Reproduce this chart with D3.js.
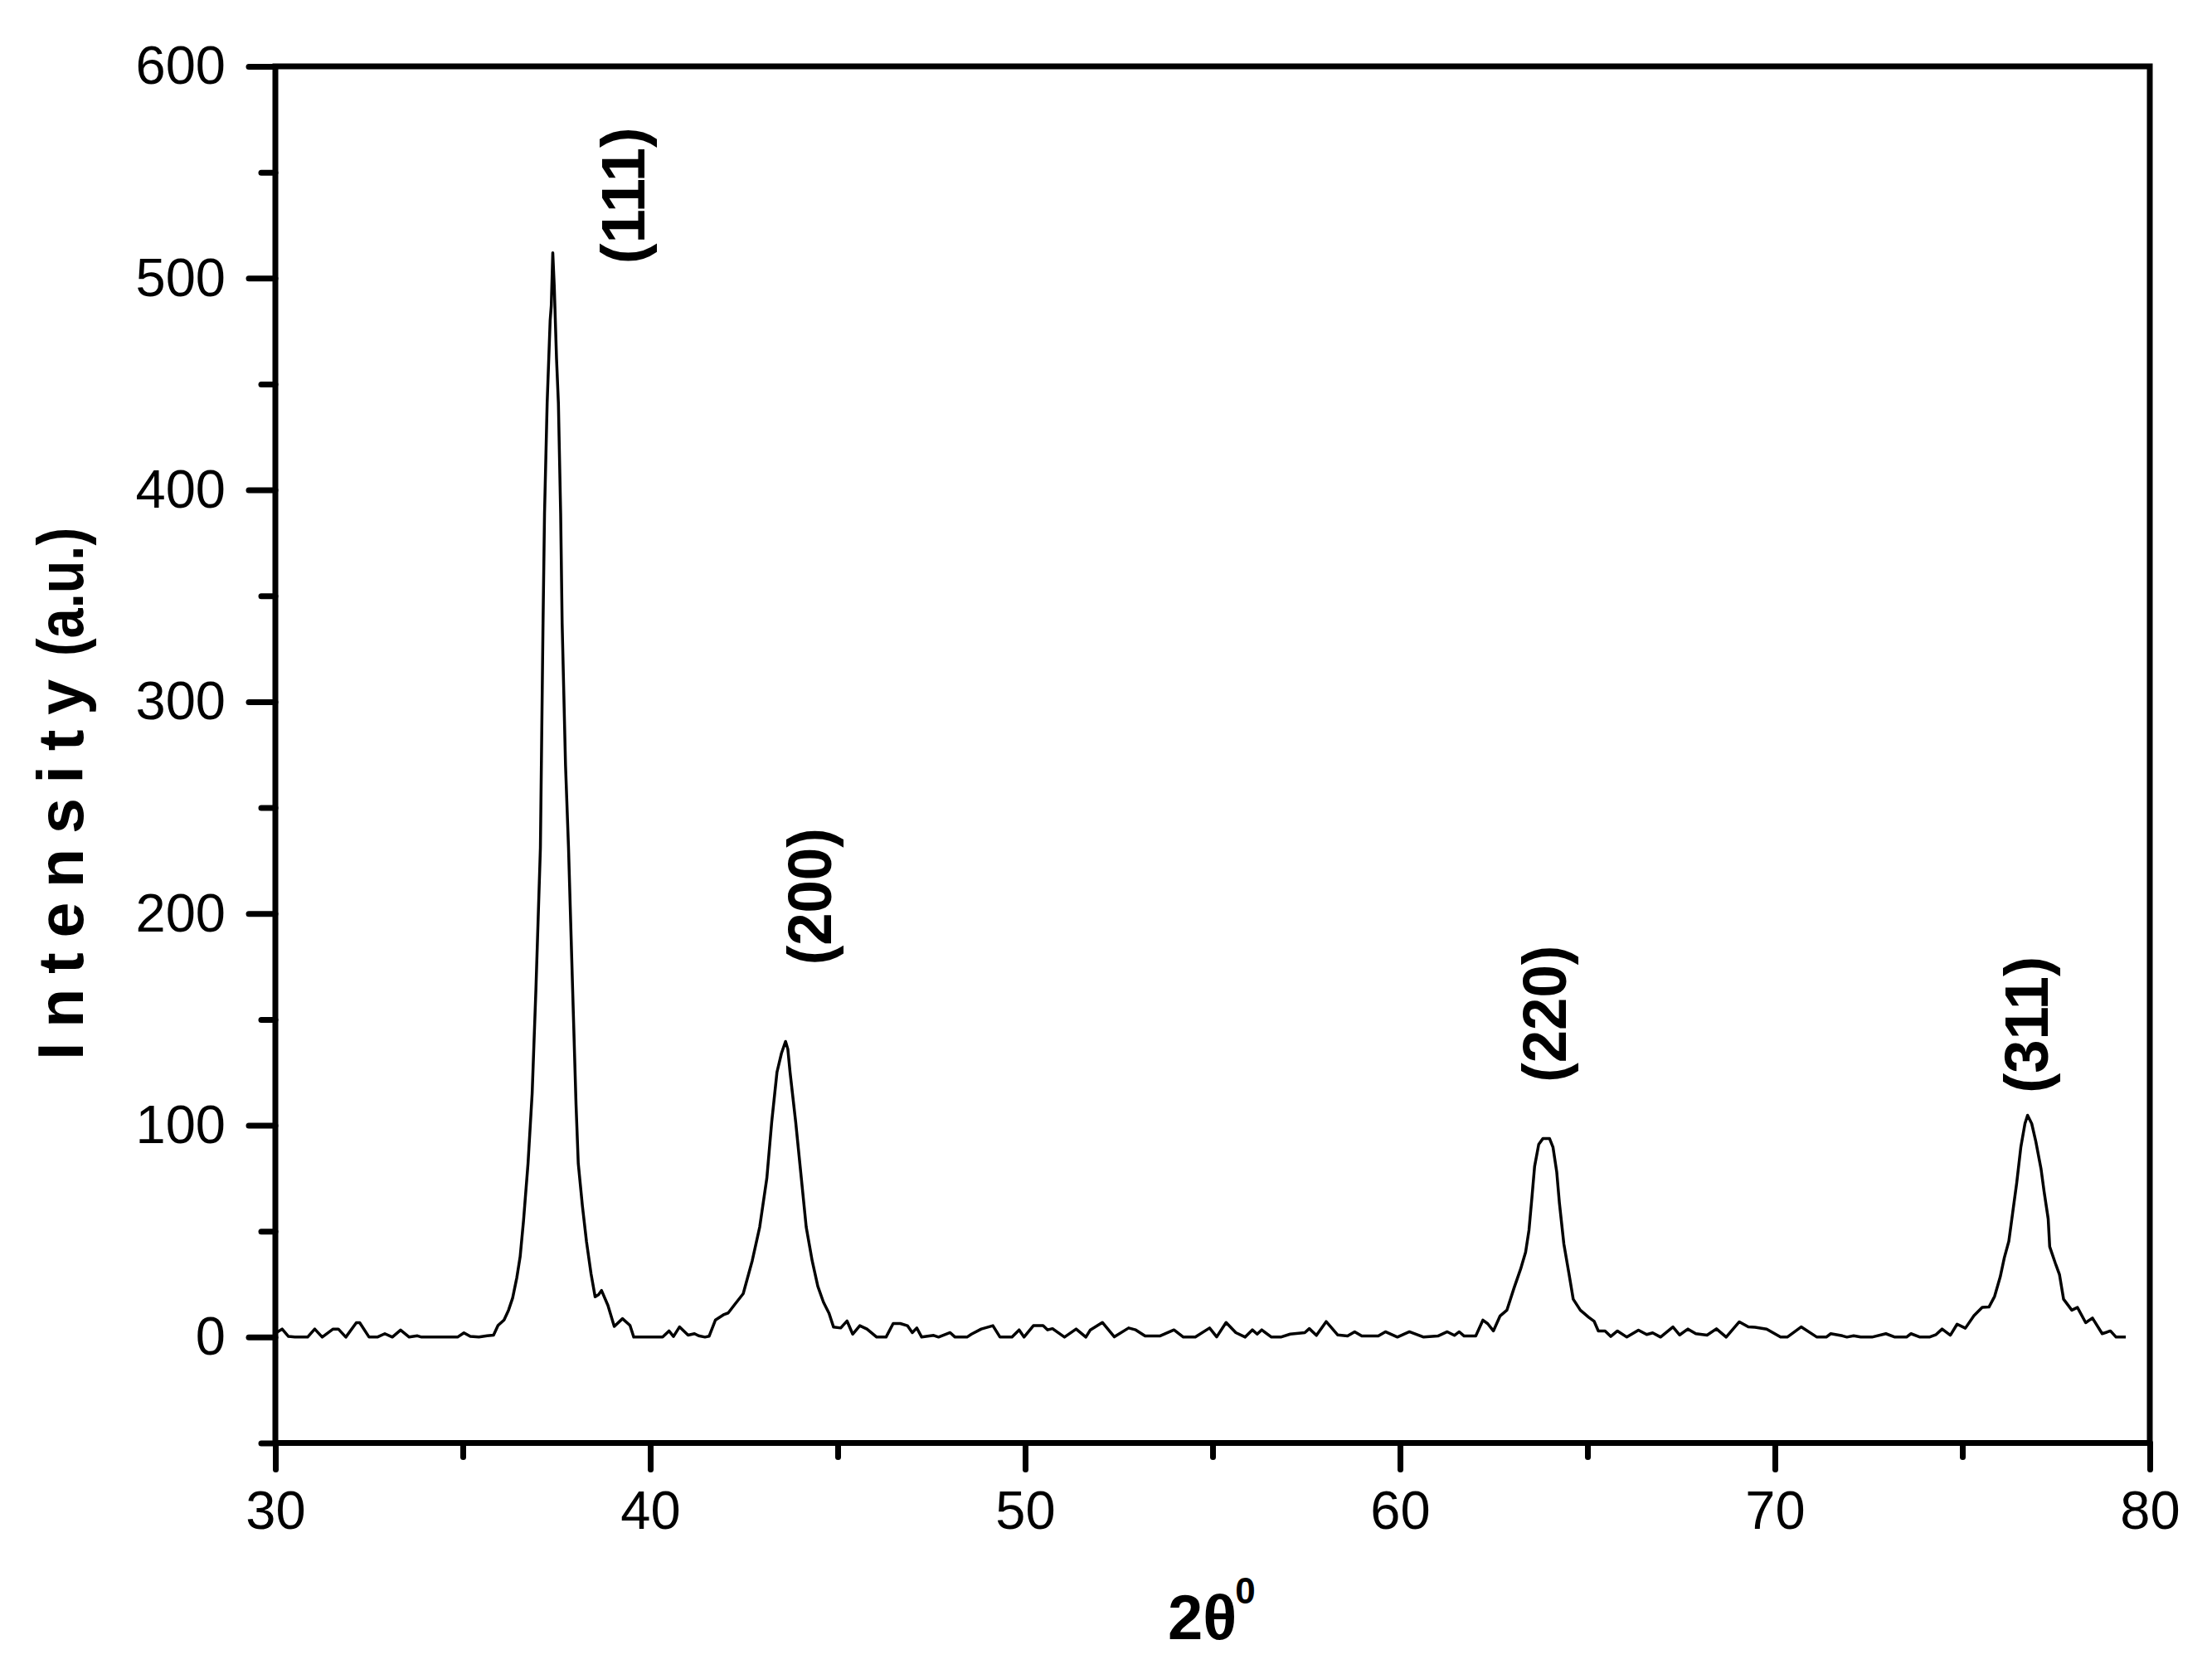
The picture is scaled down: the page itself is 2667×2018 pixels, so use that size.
<!DOCTYPE html>
<html>
<head>
<meta charset="utf-8">
<script src="https://cdn.jsdelivr.net/npm/d3@7"></script>
<style>
  html, body { margin: 0; padding: 0; background: #fff; }
  svg { display: block; }
  text { font-family: "Liberation Sans", Arial, sans-serif; fill: #000; }
</style>
</head>
<body>
<svg id="chart" width="2667" height="2018"></svg>
<script>
// ---------- data ----------
const twoTheta = [
  30.02,30.18,30.35,30.52,30.86,31.05,31.25,31.54,31.68,31.88,32.16,32.25,32.50,32.72,32.92,33.12,33.34,33.57,33.79,33.90,
  34.30,34.86,35.03,35.20,35.43,35.65,35.82,35.94,36.10,36.22,36.33,36.44,36.53,36.62,36.74,36.85,36.95,37.07,37.14,37.18,
  37.25,37.33,37.36,37.40,37.44,37.50,37.55,37.61,37.65,37.74,37.82,37.93,38.02,38.08,38.19,38.30,38.42,38.53,38.62,38.70,
  38.87,39.04,39.26,39.46,39.56,39.71,40.33,40.50,40.62,40.78,41.01,41.18,41.29,41.46,41.57,41.74,41.97,42.08,42.25,42.48,
  42.72,42.92,43.11,43.24,43.38,43.50,43.61,43.67,43.73,43.88,44.03,44.16,44.32,44.47,44.62,44.77,44.89,45.08,45.25,45.40,
  45.59,45.78,46.04,46.29,46.48,46.67,46.86,46.99,47.11,47.24,47.56,47.69,48.00,48.13,48.45,48.57,48.83,49.14,49.33,49.65,
  49.84,49.97,50.22,50.48,50.60,50.73,51.05,51.36,51.62,51.74,52.06,52.38,52.76,52.95,53.20,53.59,53.97,54.22,54.54,54.92,
  55.11,55.36,55.62,55.87,56.06,56.19,56.31,56.57,56.82,57.07,57.46,57.58,57.77,58.03,58.34,58.60,58.79,58.98,59.42,59.61,
  59.93,60.25,60.63,61.01,61.26,61.45,61.58,61.71,62.02,62.21,62.34,62.49,62.67,62.85,63.04,63.22,63.35,63.44,63.52,63.59,
  63.70,63.81,63.99,64.08,64.18,64.25,64.37,64.51,64.62,64.81,65.03,65.18,65.29,65.47,65.62,65.80,66.05,66.36,66.58,66.74,
  66.95,67.28,67.46,67.68,67.89,68.19,68.44,68.70,69.05,69.29,69.47,69.78,70.15,70.33,70.70,71.12,71.37,71.49,71.80,71.92,
  72.10,72.29,72.59,72.96,73.20,73.51,73.63,73.87,74.12,74.30,74.46,74.68,74.86,75.08,75.31,75.53,75.71,75.86,76.01,76.12,
  76.24,76.34,76.45,76.56,76.67,76.74,76.85,76.96,77.10,77.18,77.29,77.33,77.48,77.59,77.70,77.92,78.07,78.29,78.47,78.73,
  78.95,79.10,79.36
];
const intensity = [
  2,3.8,0.3,0,0,3.8,0,3.8,3.8,0,6.8,6.8,0,0,1.6,0,3.3,0,0.6,0,
  0,0,2.0,0.3,0,0.6,0.9,5.5,8.1,12.7,18.5,28,38,55,82,115,164,231,337,389,
  441,480,487,512,496,462,441,389,337,270,231,164,110,82,62,45,30,19,20,22,
  15,5,8.7,5.5,0,0,0,2.9,0.3,4.8,0.9,1.6,0.6,0,0.4,8.1,10.7,11.4,15.3,20.5,
  36,52,75,101.5,125,134,139.6,136,125,101.5,75,52,36,24,16.5,11.2,4.7,4.3,7.6,1.4,
  5.4,3.8,0,0,6.4,6.4,5.4,2.1,4.3,0,0.8,0,2.1,0,0,1.4,3.8,5.4,0,0,
  3.4,0,5.4,5.4,3.4,4.0,0,3.8,0,3.4,6.9,0.1,4.3,3.4,0.5,0.5,3.4,0,0,4.3,
  0.1,6.9,2.1,0,3.4,1.4,3.4,0,0,1.4,2.1,4.0,0.8,7.3,1.0,0.5,2.5,0.5,0.5,2.5,
  0,2.5,0,0.5,2.5,0.8,2.5,0.5,0.5,8.0,6.3,2.9,10,12.7,23.1,32.3,40.1,50.5,66.2,80.6,
  91.0,93.7,93.7,89.7,78.0,63.6,44.0,29.6,17.9,12.7,9.4,7.4,2.9,2.9,0.3,2.9,0,3.3,1.2,2.0,
  0,4.8,1.0,3.8,1.6,0.9,3.9,0,7.2,4.8,4.6,3.8,0,0,4.8,0,0,1.6,0.6,0,
  0.6,0,0,1.6,0,0,1.6,0,0,1.2,3.8,0.9,6.1,4.2,10.1,14,14.2,19.2,28.4,37.5,
  45.3,58.4,72.8,89.7,100.8,104.7,100.8,92.3,79.3,68.8,55.8,42.7,34.9,29.6,17.9,12.7,14.0,6.8,9.0,1.6,
  2.9,0,0
];
const xMajorTicks = [30, 40, 50, 60, 70, 80];
const xMinorTicks = [35, 45, 55, 65, 75];
const yMajorTicks = [0, 100, 200, 300, 400, 500, 600];
const yMinorTicks = [-50, 50, 150, 250, 350, 450, 550];
const peakLabels = ["(111)", "(200)", "(220)", "(311)"];
const peakLabelX = [39.85, 44.82, 64.42, 77.28];
const peakLabelY = [539, 208, 152.6, 147.5];
const xTitle = "2θ";
const xTitleSup = "0";
const yTitleMain = "Intensity";
const yTitleUnit = "(a.u.)";

// ---------- layout ----------
const svg = d3.select("#chart");
svg.append("rect").attr("width", 2667).attr("height", 2018).attr("fill", "#fff");

const L = 332, R = 2592, T = 80, B = 1739.5;
const x = d3.scaleLinear().domain([30, 80]).range([L, R]);
const y = d3.scaleLinear().domain([-50, 600]).range([B, T]);

const AX = 7;

function styleAxis(g) {
  g.selectAll("path.domain").remove();
  g.selectAll(".tick line").attr("stroke", "#000").attr("stroke-width", AX).attr("stroke-linecap", "round");
  g.selectAll(".tick text").attr("font-size", 65).attr("font-family", '"Liberation Sans", Arial, sans-serif').attr("fill", "#000");
}

// minor ticks
svg.append("g").attr("transform", `translate(${L},0)`)
  .call(d3.axisLeft(y).tickValues(yMinorTicks).tickSize(17).tickFormat(""))
  .call(styleAxis);
svg.append("g").attr("transform", `translate(0,${B})`)
  .call(d3.axisBottom(x).tickValues(xMinorTicks).tickSize(17).tickFormat(""))
  .call(styleAxis);
// major ticks
svg.append("g").attr("transform", `translate(${L},0)`)
  .call(d3.axisLeft(y).tickValues(yMajorTicks).tickSize(32).tickPadding(28).tickFormat(d3.format("d")))
  .call(styleAxis);
svg.append("g").attr("transform", `translate(0,${B})`)
  .call(d3.axisBottom(x).tickValues(xMajorTicks).tickSize(32).tickPadding(25).tickFormat(d3.format("d")))
  .call(styleAxis);

// frame
svg.append("rect").attr("x", L).attr("y", T).attr("width", R - L).attr("height", B - T)
  .attr("fill", "none").attr("stroke", "#000").attr("stroke-width", AX);

// data line
const pts = twoTheta.map((t, i) => [t, intensity[i]]);
const line = d3.line().x(d => x(d[0])).y(d => y(d[1]));
svg.append("path").datum(pts).attr("d", line)
  .attr("fill", "none").attr("stroke", "#000").attr("stroke-width", 3.5).attr("stroke-linejoin", "round");

// peak labels
peakLabels.forEach((lab, i) => {
  const px = x(peakLabelX[i]), py = y(peakLabelY[i]);
  svg.append("text")
    .attr("transform", `translate(${px},${py}) rotate(-90)`)
    .attr("text-anchor", "middle")
    .attr("font-weight", "bold")
    .attr("font-size", 75)
    .attr("textLength", 165).attr("lengthAdjust", "spacingAndGlyphs")
    .text(lab);
});

// x title
const xt = svg.append("text").attr("x", 1408).attr("y", 1976)
  .attr("font-weight", "bold").attr("font-size", 76);
xt.append("tspan").text(xTitle);
xt.append("tspan").attr("font-size", 44).attr("dy", -43).attr("dx", -2).text(xTitleSup);

// y title (rotated)
svg.append("text")
  .attr("transform", `translate(100,1278) rotate(-90)`)
  .attr("font-weight", "bold").attr("font-size", 77)
  .attr("textLength", 459).attr("lengthAdjust", "spacing")
  .text(yTitleMain);
svg.append("text")
  .attr("transform", `translate(100,791) rotate(-90)`)
  .attr("font-weight", "bold").attr("font-size", 77)
  .attr("textLength", 155).attr("lengthAdjust", "spacingAndGlyphs")
  .text(yTitleUnit);
</script>
</body>
</html>
